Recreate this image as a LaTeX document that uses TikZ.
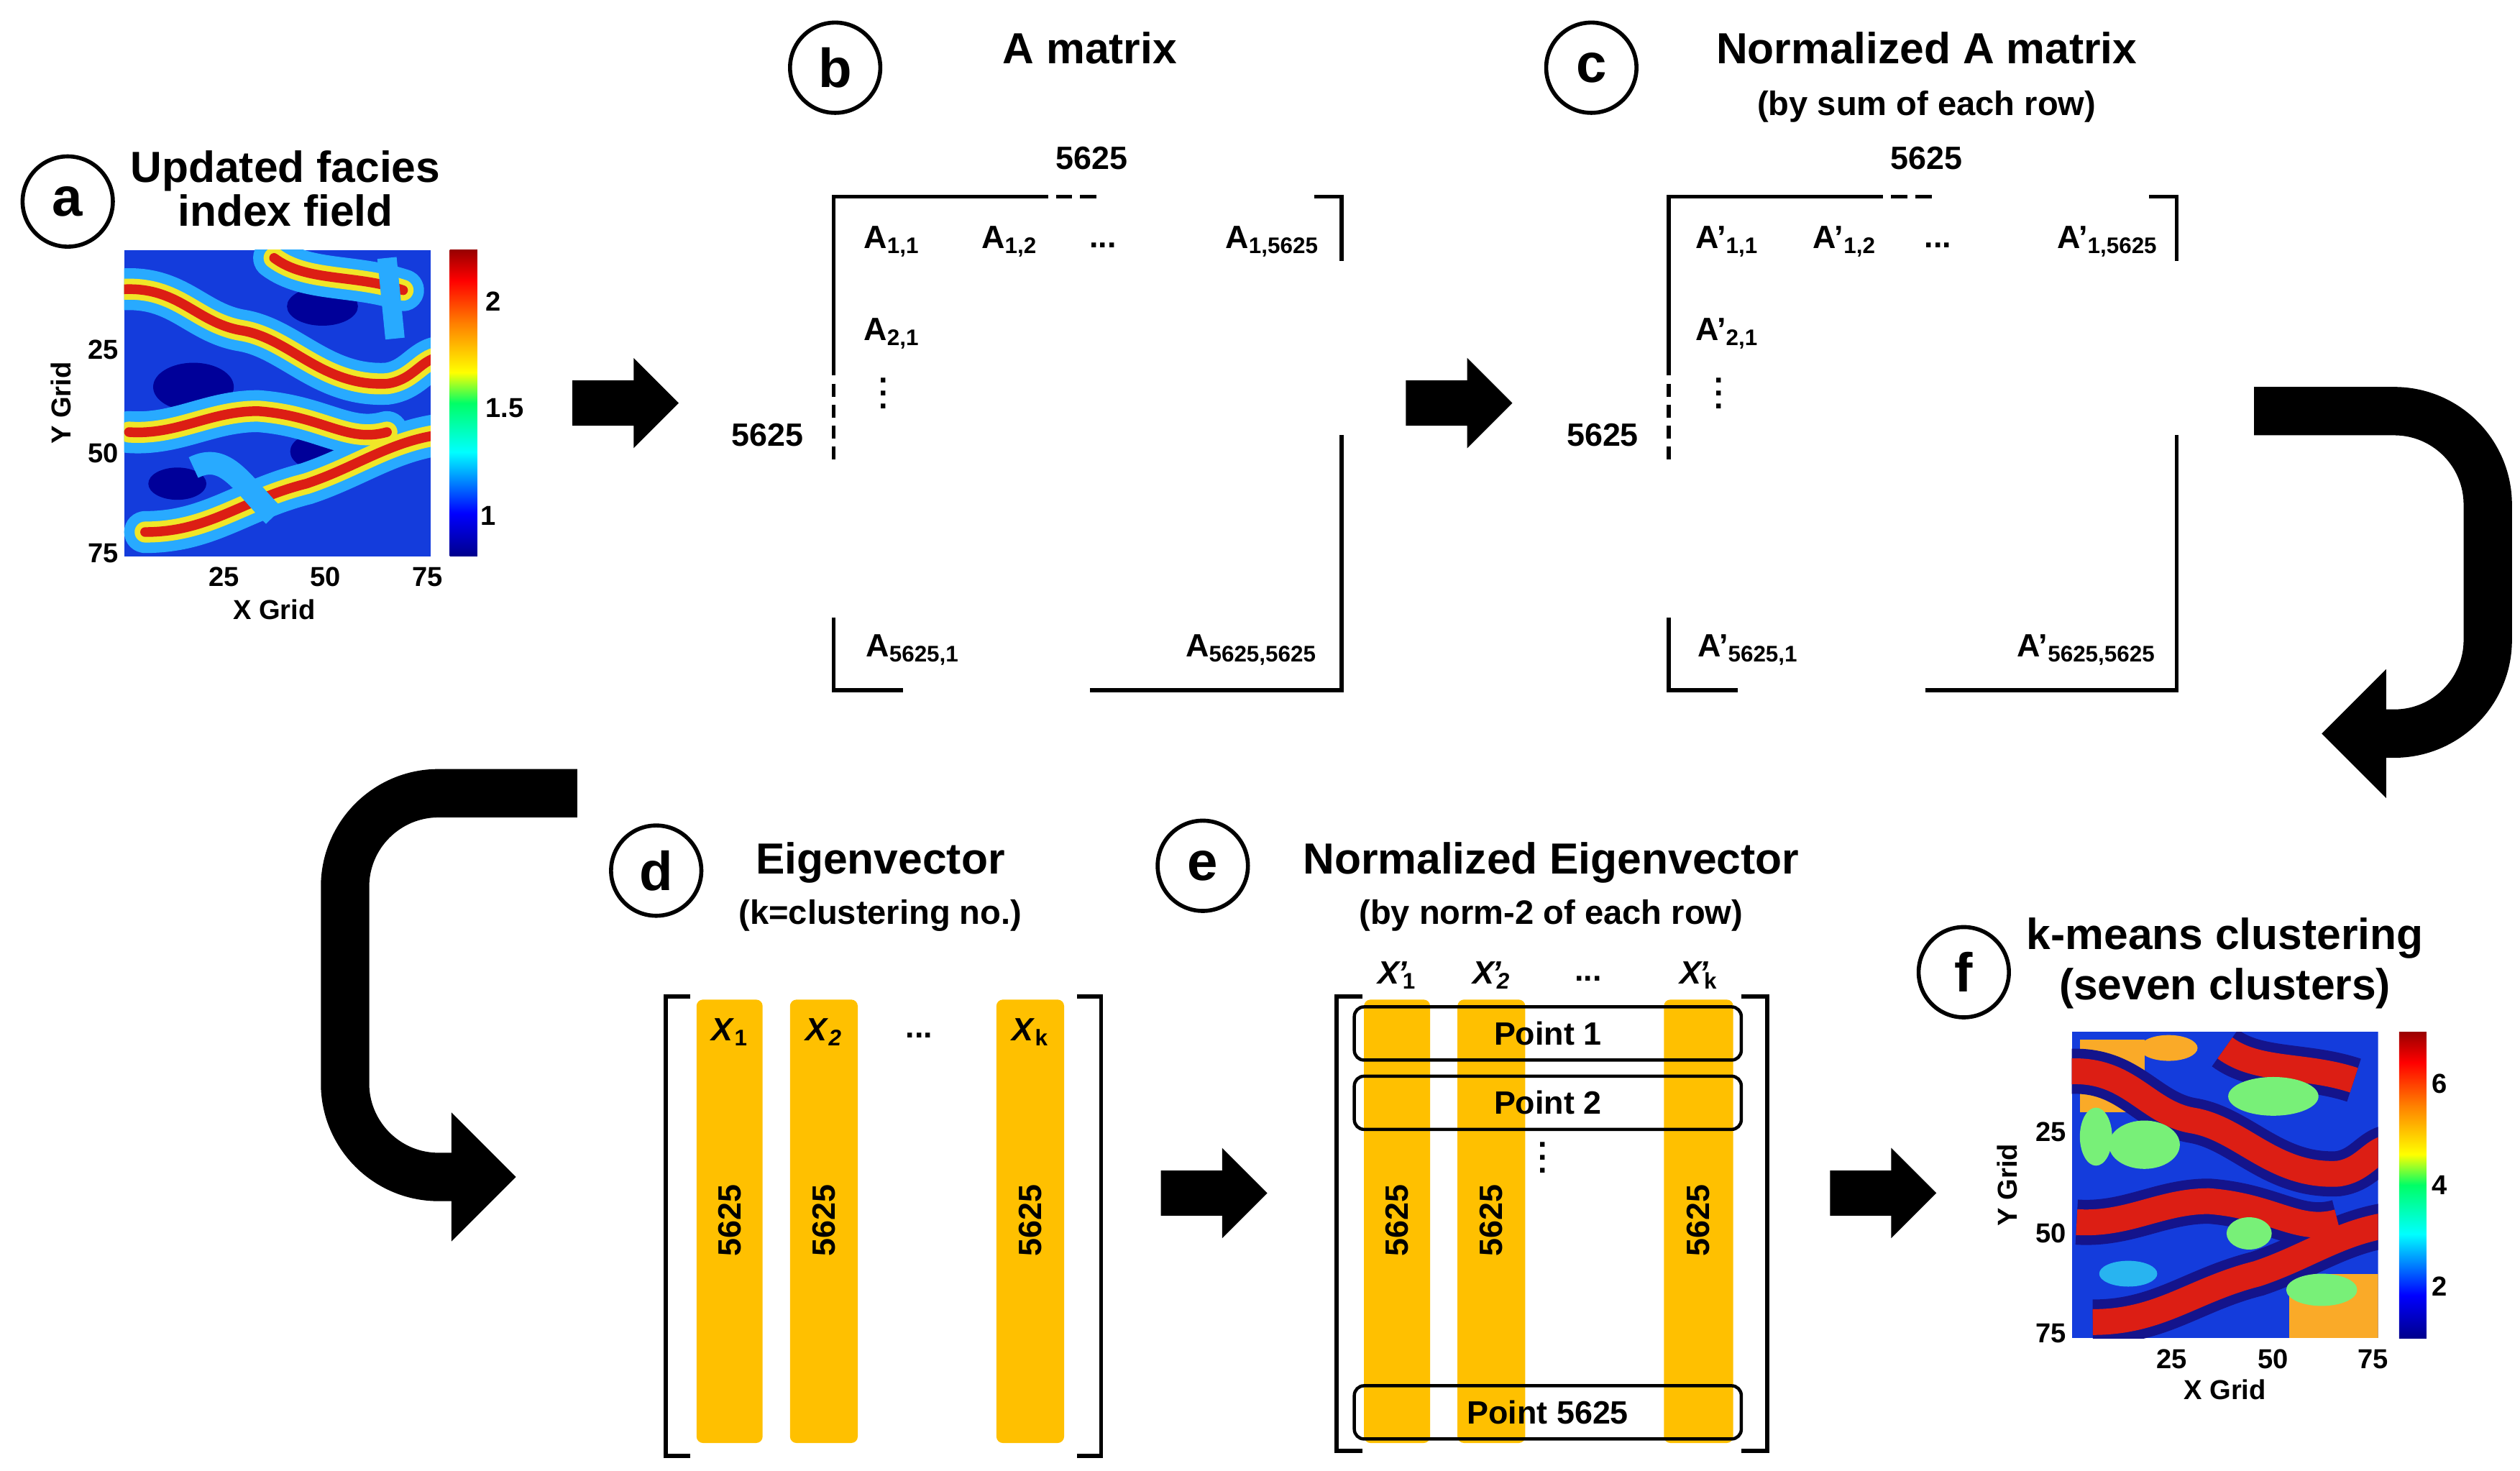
\documentclass[tikz,border=0pt]{standalone}
\usepackage{amsmath}
\usepackage{fontspec}
\setmainfont{Liberation Sans}
\begin{document}
\pgfdeclareverticalshading{jet}{100bp}{color(0bp)=(blue!55!black); color(25bp)=(blue!55!black); color(32bp)=(blue); color(42bp)=(cyan); color(50bp)=(green!60!cyan); color(55bp)=(yellow); color(63bp)=(orange); color(70bp)=(red); color(75bp)=(red!60!black); color(100bp)=(red!60!black)}
\definecolor{orng}{RGB}{255,192,0}
\definecolor{jb}{RGB}{20,60,220}
\definecolor{jc}{RGB}{40,170,255}
\definecolor{jy}{RGB}{240,230,40}
\definecolor{jr}{RGB}{220,30,20}
\definecolor{cg}{RGB}{120,240,120}
\definecolor{co}{RGB}{250,170,40}
\definecolor{cn}{RGB}{20,20,140}
\definecolor{cc}{RGB}{40,180,240}
\newcommand\bx[1]{\textbf{\textit{X}}\textsubscript{\textbf{#1}}}
\newcommand\bxp[1]{\textbf{\textit{X\kern-1pt\textquoteright}}\textsubscript{\kern-3pt\textbf{#1}}}
\begin{tikzpicture}[x=1pt,y=-1pt,
  every node/.style={font=\bfseries\fontsize{20}{22}\selectfont},
  title/.style={font=\bfseries\fontsize{27}{30}\selectfont},
  sub/.style={font=\bfseries\fontsize{21}{24}\selectfont},
  lab/.style={circle,draw,line width=2.5pt,minimum size=56pt,inner sep=0pt,font=\bfseries\fontsize{34}{36}\selectfont},
  tick/.style={font=\bfseries\fontsize{17}{19}\selectfont},
  ent/.style={font=\bfseries\fontsize{20}{22}\selectfont},
  vd/.style={inner sep=0pt,font=\bfseries\fontsize{20}{8}\selectfont,align=center},
  mat/.style={line width=2.5pt},
  col/.style={fill=orng,rounded corners=4pt},
  pt/.style={draw,line width=2pt,rounded corners=6pt,minimum width=240pt,minimum height=33pt},
  blk/.pic={\fill (0,-14)--(38,-14)--(38,-28)--(66,0)--(38,28)--(38,14)--(0,14)--cycle;}]
\useasboundingbox (0,0) rectangle (1563,912);
% ---------- a
\node[lab] (la) at (42,125) {a};
\node[title,align=center] (ta) at (177,117) {Updated facies\\[-3pt]index field};
\begin{scope}
\clip (77,155) rectangle (267,345);
\fill[jb] (77,155) rectangle (267,345);
\fill[blue!60!black] (120,240) ellipse (25 and 15);
\fill[blue!60!black] (200,280) ellipse (20 and 12);
\fill[blue!60!black] (110,300) ellipse (18 and 10);
\fill[blue!60!black] (200,190) ellipse (22 and 12);
\foreach \c/\w in {jc/26,jy/13,jr/6}{
 \draw[\c,line width=\w pt,line cap=round] (70,180) .. controls (110,175) and (120,200) .. (150,205) .. controls (180,210) and (200,240) .. (240,238) .. controls (255,236) and (260,225) .. (270,222);
 \draw[\c,line width=\w pt,line cap=round] (90,330) .. controls (130,330) and (150,310) .. (190,300) .. controls (220,290) and (240,275) .. (270,270);
 \draw[\c,line width=\w pt,line cap=round] (80,268) .. controls (110,270) and (130,255) .. (160,255) .. controls (200,258) and (215,275) .. (240,268);
 \draw[\c,line width=\w pt,line cap=round] (170,160) .. controls (190,175) and (220,170) .. (250,180);
}
\draw[jc,line width=14pt] (120,290) .. controls (140,280) and (150,300) .. (170,320);
\draw[jc,line width=12pt] (240,160) -- (245,210);
\end{scope}
\shade[shading=jet] (279,155) rectangle (296,345);
\node[tick] (a1) at (306,187) {2};
\node[tick] (a2) at (313,253) {1.5};
\node[tick] (a3) at (303,320) {1};
\node[tick,anchor=east] (ay1) at (77,217) {25};
\node[tick,anchor=east] (ay2) at (77,281) {50};
\node[tick,anchor=east] (ay3) at (77,343) {75};
\node[tick] (ax1) at (139,358) {25};
\node[tick] (ax2) at (202,358) {50};
\node[tick] (ax3) at (265,358) {75};
\node[tick] (axl) at (170,378) {X Grid};
\node[tick,rotate=90] (ayl) at (38,250) {Y Grid};
\pic at (355,250) {blk};
% ---------- b and c
\foreach \dx/\L/\P in {0/b/{A},518/c/{A\kern-1pt\textquoteright}}{
\begin{scope}[xshift=\dx]
\draw[mat] (640,122) -- (517,122) -- (517,225);
\draw[mat,dash pattern=on 8pt off 5pt] (517,225) -- (517,288);
\draw[mat,dash pattern=on 10pt off 5pt] (640,122) -- (680,122);
\draw[mat] (815,122) -- (832,122) -- (832,162);
\draw[mat] (517,383) -- (517,428) -- (560,428);
\draw[mat] (676,428) -- (832,428) -- (832,270);
\node (s1\L) at (677,98) {5625};
\node (s2\L) at (476,270) {5625};
\node[ent] (e11\L) at (553,150) {\P$_{\textbf{1,1}}$};
\node[ent] (e12\L) at (626,150) {\P$_{\textbf{1,2}}$};
\node[ent] (ed\L) at (684,152) {...};
\node[ent] (e1n\L) at (789,150) {\P$_{\textbf{1,5625}}$};
\node[ent] (e21\L) at (553,207) {\P$_{\textbf{2,1}}$};
\node[vd] (ev\L) at (548,244) {.\\.\\.};
\node[ent] (en1\L) at (566,403) {\P$_{\textbf{5625,1}}$};
\node[ent] (enn\L) at (776,403) {\P$_{\textbf{5625,5625}}$};
\end{scope}}
\node[lab] (lb) at (518,42) {b};
\node[title] (tb) at (676,30) {A matrix};
\node[lab] (lc) at (987,42) {c};
\node[title] (tc) at (1195,30) {Normalized A matrix};
\node[sub] (sc) at (1195,66) {(by sum of each row)};
\pic at (872,250) {blk};
% big right arrow
\draw[line width=30pt] (1398,255) -- (1485,255) arc[start angle=-90,end angle=0,radius=58] -- (1543,397) arc[start angle=0,end angle=90,radius=58] -- (1478,455);
\fill (1480,415) -- (1440,455) -- (1480,495) -- cycle;
% big left arrow
\draw[line width=30pt] (358,492) -- (272,492) arc[start angle=270,end angle=180,radius=58] -- (214,672) arc[start angle=180,end angle=90,radius=58] -- (282,730);
\fill (280,690) -- (320,730) -- (280,770) -- cycle;
% ---------- d
\node[lab] (ld) at (407,540) {d};
\node[title] (td) at (546,535) {Eigenvector};
\node[sub] (sd) at (546,568) {(k=clustering no.)};
\draw[mat] (428,618) -- (413,618) -- (413,903) -- (428,903);
\draw[mat] (668,618) -- (683,618) -- (683,903) -- (668,903);
\foreach \xa/\xb/\n/\lb in {432/473/1/{\bx{1}},490/532/2/{\bx{\textit{2}}},618/660/k/{\bx{k}}}{
 \fill[col] (\xa,620) rectangle (\xb,895);
 \node[ent] (dx\n) at ({(\xa+\xb)/2},640) {\lb};
 \node[ent,rotate=90] (dn\n) at ({(\xa+\xb)/2},757) {5625};
}
\node[ent] (dd) at (570,642) {...};
\pic at (720,740) {blk};
% ---------- e
\node[lab] (le) at (746,537) {e};
\node[title] (te) at (962,535) {Normalized Eigenvector};
\node[sub] (se) at (962,568) {(by norm-2 of each row)};
\draw[mat] (845,618) -- (829,618) -- (829,900) -- (845,900);
\draw[mat] (1080,618) -- (1096,618) -- (1096,900) -- (1080,900);
\foreach \xa/\xb/\n/\lb in {846/887/1/{\bxp{1}},904/946/2/{\bxp{\textit{2}}},1032/1075/k/{\bxp{k}}}{
 \fill[col] (\xa,620) rectangle (\xb,895);
 \node[ent] (ex\n) at ({(\xa+\xb)/2},605) {\lb};
 \node[ent,rotate=90] (en\n) at ({(\xa+\xb)/2},757) {5625};
}
\node[ent] (edd) at (985,607) {...};
\node[pt] (p1) at (960,641) {Point 1};
\node[pt] (p2) at (960,684) {Point 2};
\node[vd] (pv) at (957,718) {.\\.\\.};
\node[pt] (pn) at (960,876) {Point 5625};
\pic at (1135,740) {blk};
% ---------- f
\node[lab] (lf) at (1218,603) {f};
\node[title] (tf) at (1380,582) {k-means clustering};
\node[title] (sf) at (1380,613) {(seven clusters)};
\begin{scope}
\clip (1285,640) rectangle (1475,830);
\fill[jb] (1285,640) rectangle (1475,830);
\fill[co] (1290,645) rectangle (1330,690);
\fill[co] (1420,790) rectangle (1475,830);
\foreach \c/\w in {cn/28,jr/16}{
 \draw[\c,line width=\w pt] (1278,665) .. controls (1320,660) and (1330,690) .. (1360,695) .. controls (1390,700) and (1410,730) .. (1450,728) .. controls (1465,726) and (1470,715) .. (1480,712);
 \draw[\c,line width=\w pt] (1298,820) .. controls (1340,820) and (1360,800) .. (1400,790) .. controls (1430,780) and (1450,765) .. (1480,760);
 \draw[\c,line width=\w pt] (1288,758) .. controls (1320,760) and (1340,745) .. (1370,745) .. controls (1410,748) and (1425,765) .. (1450,758);
 \draw[\c,line width=\w pt] (1380,650) .. controls (1400,665) and (1430,660) .. (1460,670);
}
\fill[cg] (1330,710) ellipse (22 and 15);
\fill[cg] (1410,680) ellipse (28 and 12);
\fill[cg] (1395,765) ellipse (14 and 10);
\fill[cg] (1440,800) ellipse (22 and 10);
\fill[cc] (1320,790) ellipse (18 and 8);
\fill[cg] (1300,705) ellipse (10 and 18);
\fill[co] (1345,650) ellipse (18 and 8);
\end{scope}
\shade[shading=jet] (1488,640) rectangle (1505,830);
\node[tick] (f1) at (1513,672) {6};
\node[tick] (f2) at (1513,735) {4};
\node[tick] (f3) at (1513,798) {2};
\node[tick,anchor=east] (fy1) at (1285,702) {25};
\node[tick,anchor=east] (fy2) at (1285,765) {50};
\node[tick,anchor=east] (fy3) at (1285,827) {75};
\node[tick] (fx1) at (1347,843) {25};
\node[tick] (fx2) at (1410,843) {50};
\node[tick] (fx3) at (1472,843) {75};
\node[tick] (fxl) at (1380,862) {X Grid};
\node[tick,rotate=90] (fyl) at (1245,735) {Y Grid};
\end{tikzpicture}
\end{document}
